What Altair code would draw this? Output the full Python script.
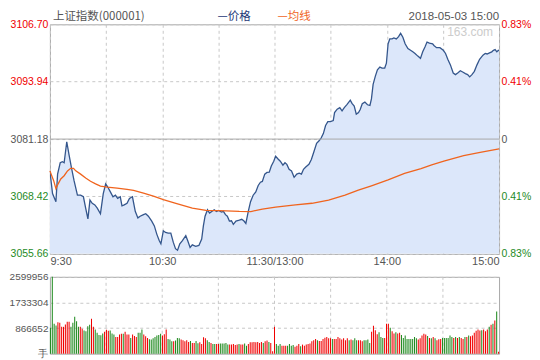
import altair as alt
import pandas as pd

PREV_CLOSE = 3081.18
y_ticks = [3055.66, 3068.42, 3081.18, 3093.94, 3106.70]
vol_ticks = [0, 866652, 1733304, 2599956]
tick_minutes = [0, 60, 120, 180, 240]
tick_labels = ["9:30", "10:30", "11:30/13:00", "14:00", "15:00"]
grid_minutes = [30, 60, 90, 120, 150, 180, 210]

price_min = [0,1.4,3.2,4.1,5.5,6.7,7.6,9.0,10.2,11.5,
             12.9,14.7,16.4,17.9,19.1,20.3,21.4,22.6,24.0,25.3,
             27.0,28.5,29.8,30.9,32.3,33.7,35.0,36.2,37.6,38.5,
             39.7,41.2,42.5,44.1,45.6,47.0,48.2,50.0,51.2,52.6,
             54.4,55.8,57.1,58.4,59.3,60.6,61.8,63.2,64.6,65.9,
             67.1,68.2,69.4,70.8,72.6,73.6,74.9,76.1,77.9,79.6,
             81.1,82.0,82.9,84.2,85.3,87.8,89.0,90.1,91.7,92.7,
             93.8,94.8,95.9,97.0,98.0,99.4,101.2,102.5,103.7,104.7,
             106.0,107.2,108.6,110.0,111.3,112.5,113.5,114.8,116.0,117.2,
             118.3,119.6,120.6,121.9,123.1,124.5,125.6,126.6,127.8,129.1,
             130.5,131.9,133.2,134.4,135.5,136.7,138.4,139.7,141.1,142.5,
             143.7,144.9,146.1,147.3,148.5,149.9,151.4,152.1,153.5,154.9,
             156.1,157.3,158.8,160.5,161.4,162.6,163.7,164.9,165.8,166.9,
             168.3,169.7,171.0,171.8,172.7,173.9,175.0,176.3,177.5,178.9,
             179.8,180.7,181.6,182.8,183.8,185.1,186.3,187.4,188.6,189.8,
             191.3,192.7,193.9,195.1,196.6,198.0,199.2,200.4,201.5,202.8,
             204.5,205.2,206.6,208.4,210.2,211.4,212.6,214.0,215.5,216.7,
             217.9,219.3,220.8,222.0,223.2,224.3,225.5,226.8,228.2,229.6,
             231.4,232.6,233.6,234.9,236.1,237.0,237.9,238.8,239.6,240]
price = [3074.04,3069.07,3067.27,3073.39,3075.92,3076.14,3075.92,3080.59,3077.72,3074.84,
         3071.94,3068.70,3068.70,3068.35,3065.82,3063.44,3067.62,3066.91,3066.54,3065.82,
         3064.59,3069.07,3071.23,3070.52,3069.44,3068.35,3068.70,3067.99,3068.35,3066.32,
         3066.54,3066.91,3067.99,3068.35,3065.11,3063.66,3064.03,3064.38,3064.59,3064.03,
         3062.95,3061.87,3060.05,3058.62,3057.89,3060.79,3060.42,3060.27,3060.27,3058.26,
         3056.81,3056.46,3057.89,3058.62,3059.70,3058.62,3057.07,3057.67,3057.33,3057.54,
         3058.97,3061.87,3064.03,3065.46,3064.74,3065.46,3065.07,3065.33,3064.96,3065.11,
         3064.38,3064.03,3062.95,3063.01,3062.21,3062.95,3063.16,3063.34,3062.95,3062.43,
         3065.11,3067.27,3068.70,3069.44,3070.86,3071.60,3071.77,3073.39,3073.76,3073.83,
         3075.19,3076.27,3077.35,3076.75,3076.27,3075.40,3075.92,3075.56,3074.47,3074.11,
         3072.68,3073.39,3073.61,3073.39,3074.47,3074.97,3075.56,3076.64,3078.43,3080.25,
         3080.75,3081.40,3082.41,3084.21,3085.07,3085.07,3085.29,3087.08,3087.82,3088.16,
         3087.45,3088.16,3088.90,3089.83,3089.11,3088.53,3086.74,3087.08,3087.77,3089.03,
         3089.40,3088.81,3088.68,3090.11,3093.36,3095.17,3096.60,3097.18,3096.97,3096.97,
         3098.05,3102.37,3103.45,3103.45,3103.67,3103.45,3103.95,3104.69,3103.82,3102.37,
         3101.29,3100.92,3100.58,3100.21,3099.63,3099.13,3100.58,3101.66,3102.74,3102.52,
         3102.37,3102.00,3101.51,3101.51,3100.92,3100.21,3098.91,3097.68,3095.88,3095.52,
         3095.88,3096.38,3096.03,3095.73,3095.52,3095.02,3095.52,3096.25,3097.68,3098.91,
         3099.84,3100.21,3100.10,3100.36,3100.58,3100.92,3101.07,3100.58,3100.92,3100.86]

avg_min = [0,2.0,3.2,4.4,5.8,7.6,9.4,11.1,12.6,13.8,
           16.4,19.1,21.7,24.4,27.0,30.6,35.9,41.2,44.7,50.0,
           55.3,60.6,67.3,76.1,83.4,90.6,101.2,107.4,113.5,120.6,
           131.2,140.0,148.9,157.7,164.8,171.8,180.7,189.5,198.3,204.0,
           210.5,221.1,229.9,240]
avg_price = [3074.11,3071.94,3070.15,3071.23,3072.31,3073.03,3074.11,3074.69,3074.69,3074.11,
             3073.39,3072.53,3071.81,3071.23,3070.73,3070.52,3070.30,3070.00,3069.78,3069.18,
             3068.48,3067.73,3066.91,3065.82,3065.35,3065.28,3065.11,3065.07,3065.61,3066.04,
             3066.54,3066.91,3067.62,3068.70,3069.82,3070.80,3072.10,3073.54,3074.63,3075.45,
             3076.27,3077.50,3078.22,3079.00]

# volume in thousands of 手, morning (117 bars) and afternoon (124 bars)
vol_am_k = [874,2600,1010,954,1067,1045,908,908,988,1079,
            1079,908,1045,1249,1101,908,908,840,783,761,
            931,976,1181,908,817,704,636,624,681,738,
            806,772,783,681,647,568,568,647,670,670,
            738,647,647,534,647,600,568,704,704,817,
            647,590,534,488,477,522,568,613,636,670,
            613,659,817,500,477,420,420,443,534,522,
            477,454,420,454,397,431,363,363,431,352,
            386,329,556,522,454,397,363,329,329,329,
            329,341,341,341,363,307,307,307,329,295,
            307,329,307,307,341,272,329,386,386,397,
            386,397,363,397,363,420,443]
col_am = ("gggg" "rrrrrrr" "ggggg" "rr" "gggg" "rr" "ggggg" "rrr" "ggg" "rrrr"
          "g" "rrr" "g" "r" "r" "r" "ggg" "rrr" "ggggggg" "rrr" "ggg" "r" "ggg"
          "rrrrr" "g" "rr" "gg" "rrrr" "gg" "r" "gg" "rr" "ggggg" "rrrrr" "g"
          "rr" "gg" "rrrrrrrr" "g" "rr")
vol_pm_k = [397,363,79,908,329,272,329,272,272,272,
            272,329,272,295,238,272,329,250,307,272,
            307,329,341,420,454,500,454,431,431,500,
            540,568,522,522,500,500,500,568,522,477,
            522,454,522,454,477,454,522,454,454,454,
            420,454,454,477,363,738,942,795,659,727,
            568,534,534,1010,1010,874,761,681,727,681,
            704,636,534,613,500,500,500,500,568,522,
            477,522,613,670,647,602,534,522,568,522,
            454,488,500,534,534,534,534,613,568,534,
            568,534,568,534,500,568,568,613,590,613,
            704,772,817,783,795,817,761,817,908,976,
            1010,1124,1431,68]
col_pm = ("g" "rrr" "ggg" "rrr" "gggg" "rrr" "g" "rrrrrrrr" "g" "rrr" "r" "rrr"
          "g" "rrrrrrrr" "g" "r" "ggg" "rrr" "gggg" "rrrr" "ggg" "rrr" "g" "rr"
          "g" "rr" "ggggggggg" "rrrrr" "g" "r" "g" "r" "g" "rrr" "ggg" "g" "gg"
          "r" "g" "r" "g" "rr" "g" "r" "g" "rrrrrr" "g" "rrr" "g" "r" "g" "r"
          "g" "r")

header_title = ["上证指数(000001)"]
legend_price = ["—价格"]
legend_avg = ["—均线"]
stamp = ["2018-05-03 15:00"]
watermark = ["163.com"]

RED = "#f00000"
GREEN = "#1e8a1e"
GREY = "#555555"
BLUE = "#34568c"
FILL = "#dce7fa"
ORANGE = "#f0641e"
GRIDC = "#c8c8c8"
W, H1, H2 = 450, 230, 77
FONT = "Liberation Sans"

vols = [v * 1000 for v in vol_am_k + vol_pm_k]
vols[1] = 2599956
cols = list(col_am + col_pm)
n = min(len(vols), len(cols))
vol_df = pd.DataFrame({"i": list(range(n)), "v": vols[:n], "c": cols[:n]})
price_df = pd.DataFrame({"m": price_min, "p": price})
avg_df = pd.DataFrame({"m": avg_min, "a": avg_price})

lab_expr = " : ".join(
    f"datum.value == {m} ? '{t}'" for m, t in zip(tick_minutes, tick_labels)
) + " : ''"

label_color = {
    "condition": [
        {"test": f"datum.value > {PREV_CLOSE + 0.01}", "value": RED},
        {"test": f"datum.value < {PREV_CLOSE - 0.01}", "value": GREEN},
    ],
    "value": GREY,
}

xscale = alt.Scale(domain=[0, 240], nice=False)
yscale = alt.Scale(domain=[y_ticks[0], y_ticks[-1]], nice=False, zero=False)

x_axis = alt.Axis(values=list(range(0, 241, 30)), labelExpr=lab_expr, grid=True,
                  gridColor=GRIDC, gridDash=[3, 3], domain=False, ticks=False,
                  labelPadding=2, labelFont=FONT, labelFontSize=11, labelColor=GREY,
                  labelOverlap=False, title=None)

left_axis = alt.Axis(values=y_ticks, format=".2f", grid=True, gridColor=GRIDC,
                     gridDash=[3, 3], domain=False, ticks=False, labelPadding=2,
                     labelFont=FONT, labelFontSize=10.5, labelColor=label_color,
                     title=None)

pct_expr = (f"abs(datum.value - {PREV_CLOSE}) < 0.01 ? '0' : "
            f"format(abs(datum.value - {PREV_CLOSE}) / {PREV_CLOSE} * 100, '.2f') + '%'")
right_axis = alt.Axis(orient="right", values=y_ticks, labelExpr=pct_expr, grid=False,
                      domain=False, ticks=False, labelPadding=2, labelFont=FONT,
                      labelFontSize=10.5, labelColor=label_color, title=None)

area = alt.Chart(price_df).mark_area(
    color=FILL, opacity=1, clip=True, line={"color": BLUE, "strokeWidth": 1.3}
).encode(
    x=alt.X("m:Q", scale=xscale, axis=x_axis),
    y=alt.Y("p:Q", scale=yscale, axis=left_axis),
    y2=alt.datum(y_ticks[0]),
)

mid_rule = alt.Chart(pd.DataFrame({"y": [PREV_CLOSE]})).mark_rule(
    color="#a8a8a8", strokeWidth=1
).encode(y=alt.Y("y:Q", scale=yscale, axis=None))

avg_line = alt.Chart(avg_df).mark_line(color=ORANGE, strokeWidth=1.3).encode(
    x=alt.X("m:Q", scale=xscale, axis=x_axis),
    y=alt.Y("a:Q", scale=yscale, axis=right_axis),
)


def label(txt, xpos, ypos, color, align="left", size=11.5, font="Noto Sans CJK SC"):
    return alt.Chart(pd.DataFrame({"t": txt})).mark_text(
        align=align, baseline="middle", color=color, fontSize=size, font=font
    ).encode(text="t:N", x=alt.value(xpos), y=alt.value(ypos))


texts = [
    label(header_title, 3, -7, GREY),
    label(legend_price, 168, -7, "#1e3a78"),
    label(legend_avg, 228, -7, ORANGE),
    label(stamp, W, -7, GREY, align="right", font=FONT, size=11.5),
    label(watermark, W - 6, 8, "#cccccc", align="right", font=FONT, size=12),
]

main = alt.layer(area, mid_rule, avg_line, *texts).resolve_scale(
    y="independent"
).properties(width=W, height=H1)

vgrid = alt.Chart(pd.DataFrame({"g": grid_minutes})).mark_rule(
    color=GRIDC, strokeDash=[3, 3]
).encode(x=alt.X("g:Q", scale=xscale, axis=None))

bars = alt.Chart(vol_df).mark_bar().encode(
    x=alt.X("i:O", scale=alt.Scale(paddingInner=0.45, paddingOuter=0), axis=None),
    y=alt.Y("v:Q", scale=alt.Scale(domain=[0, vol_ticks[-1]], nice=False),
            axis=alt.Axis(values=vol_ticks, format="d",
                          labelExpr="datum.value == 0 ? '手' : datum.label",
                          grid=True, gridColor=GRIDC, gridDash=[3, 3], domain=False,
                          ticks=False, labelPadding=2, labelFont=FONT, labelFontSize=10,
                          labelColor=GREY, title=None)),
    color=alt.Color("c:N", scale=alt.Scale(domain=["r", "g"], range=[RED, GREEN]),
                    legend=None),
)

vol = alt.layer(vgrid, bars).resolve_scale(x="independent").properties(width=W, height=H2)

chart = alt.vconcat(main, vol, spacing=3).properties(
    padding={"top": 2, "left": 0, "right": 0, "bottom": 0}, background="white"
).configure_view(stroke="#a8a8a8", strokeWidth=1)

chart.save("out.html", embed_options={"renderer": "svg", "actions": False})
